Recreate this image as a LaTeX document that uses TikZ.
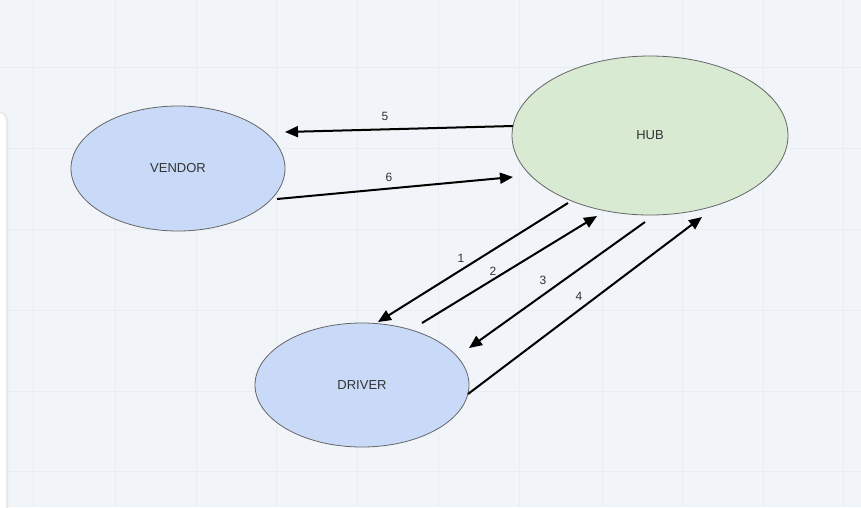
\documentclass[tikz,border=0pt]{standalone}
\usepackage{fontspec}
\setmainfont{Liberation Sans}
\usetikzlibrary{arrows.meta,shapes.geometric}
\definecolor{bg}{HTML}{F1F4F8}
\definecolor{gridc}{HTML}{E9ECF0}
\definecolor{bluefill}{HTML}{C9DAF8}
\definecolor{greenfill}{HTML}{D9EAD3}
\definecolor{strokec}{HTML}{666666}
\definecolor{txt}{HTML}{333333}
\begin{document}
\begin{tikzpicture}[x=1pt,y=-1pt,
 ent/.style={ellipse, draw=strokec, line width=0.8pt, inner sep=0pt, outer sep=0pt, text=txt, font=\fontsize{13}{15}\selectfont},
 flow/.style={line width=2pt, -{Triangle[length=13pt,width=11pt]}},
 lbl/.style={text=txt, font=\fontsize{12}{14}\selectfont, inner sep=0pt}]
\useasboundingbox (0,0) rectangle (861,507);
\fill[bg] (0,0) rectangle (861,507);
\foreach \x in {33,115,196,276,357,438,519,602,682,763,843}
  \draw[gridc, line width=1pt] (\x,0) -- (\x,507);
\foreach \y in {67,148,229,310,391,471}
  \draw[gridc, line width=1pt] (0,\y) -- (861,\y);
% left white panel
\fill[black!9, rounded corners=8pt] (-20,112) rectangle (8,540);
\fill[white, rounded corners=8pt] (-20,113) rectangle (6,540);
% nodes
\node[ent, fill=bluefill, minimum width=214pt, minimum height=125pt] (vendor) at (178,168.5) {VENDOR};
\node[ent, fill=greenfill, minimum width=276pt, minimum height=159pt] (hub) at (650,135.5) {HUB};
\node[ent, fill=bluefill, minimum width=214pt, minimum height=124pt] (driver) at (362,385) {DRIVER};
% connectors
\draw[flow] ([shift={(-137,-9.5)}]hub.center) -- ([shift={(107,-36.5)}]vendor.center);
\draw[flow] ([shift={(99,30.5)}]vendor.center) -- ([shift={(-137,41.5)}]hub.center);
\draw[flow] ([shift={(-82,67.5)}]hub.center) -- ([shift={(16,-63)}]driver.center);
\draw[flow] ([shift={(60,-62)}]driver.center) -- ([shift={(-53,80.5)}]hub.center);
\draw[flow] ([shift={(-5,86.5)}]hub.center) -- ([shift={(107,-37)}]driver.center);
\draw[flow] ([shift={(106,9)}]driver.center) -- ([shift={(52,81.5)}]hub.center);
% labels
\node[lbl] (l5) at (385,116) {5};
\node[lbl] (l6) at (389,177) {6};
\node[lbl] (l1) at (461,258) {1};
\node[lbl] (l2) at (493,271) {2};
\node[lbl] (l3) at (543,280) {3};
\node[lbl] (l4) at (579,296) {4};
\end{tikzpicture}
\end{document}
